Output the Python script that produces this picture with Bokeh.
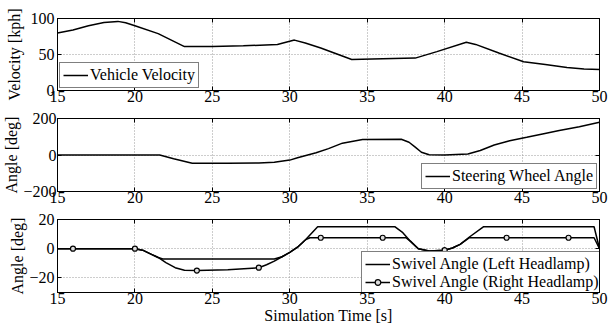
from bokeh.plotting import figure
from bokeh.layouts import column
from bokeh.models import FixedTicker, Range1d, LinearAxis, CustomLabelingPolicy
from bokeh.embed import file_html
from bokeh.resources import INLINE

FONT = "Liberation Serif"
FS = "16px"

x_ticks = [15, 20, 25, 30, 35, 40, 45, 50]

# Vehicle velocity [kph]
t_vel = [15, 16, 17, 18, 18.9, 19.4, 20, 21.5, 23.2, 25, 27, 29.2, 30.3, 31, 32, 33, 34,
         36, 38.1, 39.5, 41.4, 42, 43.5, 45.1, 46.5, 47.9, 49, 50]
vel = [80, 84, 90, 94.5, 96, 94, 90, 79, 61, 61, 62, 64, 70, 66, 59, 51, 43,
       44, 45, 54, 67, 64, 52, 40, 36, 32, 30, 29]

# Steering wheel angle [deg]
t_steer = [15, 18, 20, 21.6, 22.5, 23.7, 26, 28, 29, 30, 30.5, 31.7, 32.5, 33.4, 34.7,
           37.2, 37.7, 38.1, 38.5, 39, 40, 41.5, 42.3, 43.2, 44.2, 45.3, 46.4, 47.4, 48.7, 50]
steer = [0, 0, 0, 0, -20, -45, -45, -44, -40, -28, -15, 12, 35, 65, 85,
         86, 70, 43, 15, 1, 0, 5, 25, 55, 78, 97, 117, 134, 155, 180]

# Swivel angle, left headlamp [deg]
t_left = [15, 20, 20.5, 21, 21.5, 21.8, 29, 29.5, 30, 30.5, 31, 31.8, 36.8, 37.3, 37.8,
          38.3, 39, 40, 40.5, 41, 41.6, 42.5, 49.65, 50]
left = [0, 0, -1, -3.5, -6, -7, -7, -5.5, -2.5, 1, 6, 15, 15, 11, 5,
        0, -1.5, -1, 0.5, 3, 8, 15, 15, 0]

# Swivel angle, right headlamp [deg]
t_right = [15, 20, 20.5, 21, 21.5, 22, 22.6, 23.2, 24, 26, 28, 28.5, 29, 29.5, 30, 30.5,
           31, 31.3, 37.5, 37.8, 38.3, 39, 40, 40.5, 41, 41.6, 49.65, 50]
right = [0, 0, -1, -3.5, -6, -9.5, -13, -14.8, -15, -14.5, -13, -11, -8.5, -5.5, -2.5, 1,
         6, 7.5, 7.5, 5, 0, -1.5, -1, 0.5, 3, 7.5, 7.5, 0]

# Marker positions on the right headlamp curve
t_mark = [16, 20, 24, 28, 32, 36, 40, 44, 48]
right_mark = [0, 0, -15, -13, 7.5, 7.5, -1, 7.5, 7.5]

HIDE_LABELS = "for (let i = 0; i < indices.size; i++) { indices.unset(i) } return indices"


def style_axis(ax, label_standoff, tick_standoff):
    ax.axis_line_color = "black"
    ax.major_tick_line_color = "black"
    ax.major_tick_in = 4
    ax.major_tick_out = 0
    ax.minor_tick_line_color = None
    ax.major_label_text_font = FONT
    ax.major_label_text_font_size = FS
    ax.major_label_text_color = "black"
    ax.major_label_standoff = tick_standoff
    ax.axis_label_text_font = FONT
    ax.axis_label_text_font_size = FS
    ax.axis_label_text_font_style = "normal"
    ax.axis_label_text_color = "black"
    ax.axis_label_standoff = label_standoff


def box_axis(ticks):
    ax = LinearAxis(ticker=FixedTicker(ticks=ticks))
    ax.axis_line_color = "black"
    ax.major_tick_line_color = "black"
    ax.major_tick_in = 4
    ax.major_tick_out = 0
    ax.minor_tick_line_color = None
    ax.major_label_text_font_size = "1px"
    ax.major_label_standoff = 0
    ax.major_label_policy = CustomLabelingPolicy(code=HIDE_LABELS)
    return ax


def make_fig(height, yr, yticks, ylabel, b_top, b_bottom, ylab_standoff, ytick_standoff,
             xlabel=None):
    p = figure(width=608, height=height, x_range=Range1d(15, 50), y_range=Range1d(*yr),
               output_backend="svg", toolbar_location=None,
               min_border_left=50, min_border_right=9,
               min_border_top=b_top, min_border_bottom=b_bottom)
    p.background_fill_color = "white"
    p.border_fill_color = "white"
    p.outline_line_color = "black"
    p.outline_line_width = 1
    p.xaxis.ticker = FixedTicker(ticks=x_ticks)
    p.yaxis.ticker = FixedTicker(ticks=yticks)
    for ax in p.xaxis:
        style_axis(ax, 0, 0)
    for ax in p.yaxis:
        style_axis(ax, ylab_standoff, ytick_standoff)
    p.yaxis.axis_label = ylabel
    if xlabel:
        p.xaxis.axis_label = xlabel
    p.xgrid.ticker = FixedTicker(ticks=x_ticks)
    p.ygrid.ticker = FixedTicker(ticks=yticks)
    for g in (p.xgrid, p.ygrid):
        g.grid_line_color = "#9a9a9a"
        g.grid_line_dash = "1 2"
        g.grid_line_width = 1
    p.add_layout(box_axis(x_ticks), "above")
    p.add_layout(box_axis(yticks), "right")
    return p


def style_legend(p, loc):
    lg = p.legend[0]
    lg.location = loc
    lg.border_line_color = "black"
    lg.border_line_width = 1
    lg.background_fill_color = "white"
    lg.background_fill_alpha = 1
    lg.label_text_font = FONT
    lg.label_text_font_size = FS
    lg.label_text_color = "black"
    lg.glyph_width = 25
    lg.glyph_height = 14
    lg.label_height = 18
    lg.label_standoff = 2
    lg.padding = 3
    lg.spacing = 0
    lg.margin = 2


LW = 1.5

p1 = make_fig(109, (0, 100), [0, 50, 100], "Velocity [kph]", 18, 19, 5, 3)
p1.line(t_vel, vel, line_color="black", line_width=LW, legend_label="Vehicle Velocity")
style_legend(p1, "bottom_left")

p2 = make_fig(101, (-200, 200), [-200, 0, 200], "Angle [deg]", 9, 19, 0, 1)
p2.line(t_steer, steer, line_color="black", line_width=LW, legend_label="Steering Wheel Angle")
style_legend(p2, "bottom_right")

p3 = make_fig(118, (-30, 20), [-20, 0, 20], "Angle [deg]", 9, 36, 0, 3,
              xlabel="Simulation Time [s]")
p3.line(t_left, left, line_color="black", line_width=LW, legend_label="Swivel Angle (Left Headlamp)")
p3.line(t_right, right, line_color="black", line_width=LW, legend_label="Swivel Angle (Right Headlamp)")
p3.scatter(t_mark, right_mark, marker="circle", size=5, line_color="black", line_width=1.2,
           fill_color="#dddddd", legend_label="Swivel Angle (Right Headlamp)")
style_legend(p3, (304, -3))

layout = column(p1, p2, p3, spacing=0)
open("out.html", "w").write(file_html(layout, INLINE))
